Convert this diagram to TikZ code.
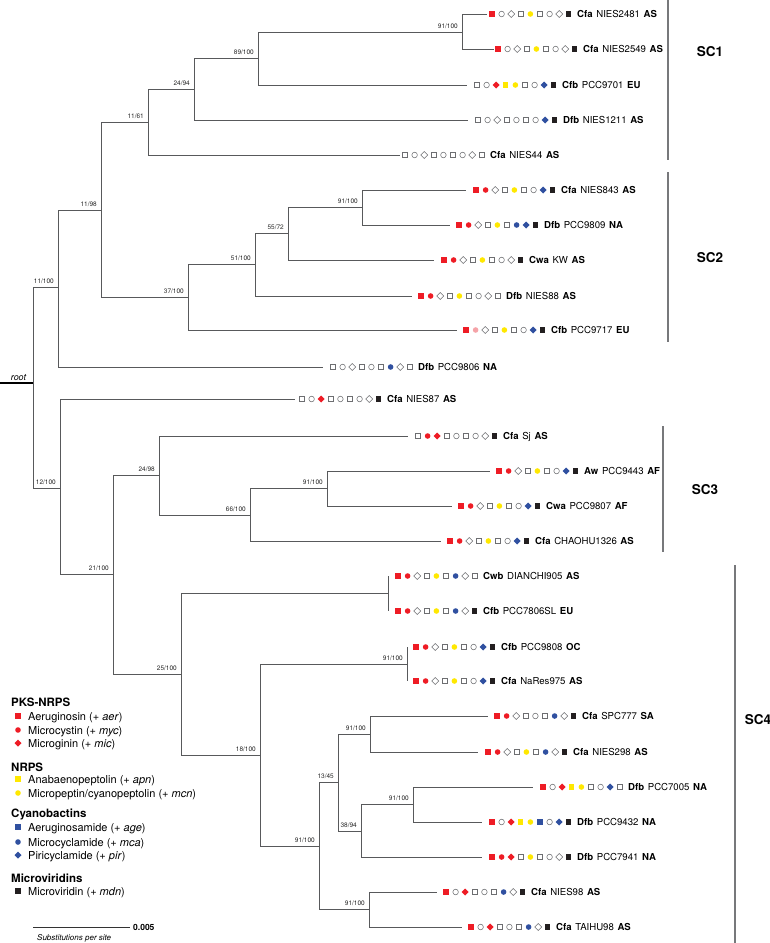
\documentclass[tikz,border=0pt]{standalone}
\usepackage{fontspec}
\setmainfont{TeX Gyre Heros}
\definecolor{cred}{HTML}{EE1C25}
\definecolor{cpink}{HTML}{F5A3A8}
\definecolor{cyel}{HTML}{FFE800}
\definecolor{cblu}{HTML}{3050A0}
\definecolor{cblk}{HTML}{231F20}
\definecolor{copen}{HTML}{6D6E71}
\definecolor{cbr}{HTML}{58595B}
\definecolor{csc}{HTML}{77787B}
\tikzset{
  br/.style={draw=cbr,line width=0.9pt},
  rootline/.style={draw=black,line width=1.8pt},
  scline/.style={draw=csc,line width=2pt},
  leaftxt/.style={anchor=base west,inner sep=0pt,font=\fontsize{9.6}{11}\selectfont},
  bslab/.style={anchor=base east,inner sep=0pt,font=\fontsize{6.5}{7}\selectfont,text=black!85},
  sclab/.style={anchor=center,inner sep=0pt,font=\fontsize{13.5}{15}\selectfont\bfseries},
  leghead/.style={anchor=base west,inner sep=0pt,font=\fontsize{11.5}{13}\selectfont\bfseries},
  legitem/.style={anchor=base west,inner sep=0pt,font=\fontsize{11}{13}\selectfont},
}
% shape code, x, y, fill, draw
\newcommand\drawsym[5]{%
  \ifcase#1\or
    \path[fill=#4,draw=#5,line width=0.55pt] (#2-2.6,#3-2.6) rectangle (#2+2.6,#3+2.6);%
  \or
    \path[fill=#4,draw=#5,line width=0.55pt] (#2,#3) circle[radius=2.8pt];%
  \or
    \path[fill=#4,draw=#5,line width=0.55pt] (#2,#3-3.5) -- (#2+3.5,#3) -- (#2,#3+3.5) -- (#2-3.5,#3) -- cycle;%
  \fi}
\newcommand\symrow[3]{%
  \foreach \v [count=\i] in {#3} {%
    \pgfmathsetmacro\sx{#1+9.6*(\i-1)}%
    \ifcase\i\or\def\sh{1}\def\cc{cred}\or\def\sh{2}\def\cc{cred}\or\def\sh{3}\def\cc{cred}%
    \or\def\sh{1}\def\cc{cyel}\or\def\sh{2}\def\cc{cyel}\or\def\sh{1}\def\cc{cblu}%
    \or\def\sh{2}\def\cc{cblu}\or\def\sh{3}\def\cc{cblu}\or\def\sh{1}\def\cc{cblk}\fi
    \ifnum\v=0 \drawsym{\sh}{\sx}{#2}{white}{copen}%
    \else\ifnum\v=2 \drawsym{\sh}{\sx}{#2}{cpink}{none}%
    \else \drawsym{\sh}{\sx}{#2}{\cc}{none}\fi\fi
  }}
\newcommand\lt[3]{\textbf{#1}\hspace{0.38em}#2\hspace{0.38em}\textbf{#3}}
% name, line end x, first symbol x, y, pattern, text
\newcommand\leaf[6]{%
  \coordinate (#1) at (#2,#4);
  \symrow{#3}{#4}{#5}
  \node[leaftxt] (#1t) at (#3+85,#4+3.5) {#6};}
\newcommand\bsl[2]{\node[bslab] (#1l) at ([xshift=-4pt,yshift=3.5pt]#1) {#2};}
\begin{document}
\begin{tikzpicture}[x=1pt,y=-1pt]
\useasboundingbox (0,0) rectangle (770,943);
% leaves
\leaf{L1}{487}{492}{14}{1,0,0,0,1,0,0,0,1}{\lt{Cfa}{NIES2481}{AS}}
\leaf{L2}{494}{498}{49}{1,0,0,0,1,0,0,0,1}{\lt{Cfa}{NIES2549}{AS}}
\leaf{L3}{467}{477}{85}{0,0,1,1,1,0,0,1,1}{\lt{Cfb}{PCC9701}{EU}}
\leaf{L4}{468}{478}{120}{0,0,0,0,0,0,0,1,1}{\lt{Dfb}{NIES1211}{AS}}
\leaf{L5}{400}{405}{155}{0,0,0,0,0,0,0,0,0}{\lt{Cfa}{NIES44}{AS}}
\leaf{L6}{466}{476}{190}{1,1,0,0,1,0,0,1,1}{\lt{Cfa}{NIES843}{AS}}
\leaf{L7}{450}{459}{225}{1,1,0,0,1,0,1,1,1}{\lt{Dfb}{PCC9809}{NA}}
\leaf{L8}{434}{444}{260}{1,1,0,0,1,0,0,0,1}{\lt{Cwa}{KW}{AS}}
\leaf{L9}{412}{421}{296}{1,1,0,0,1,0,0,0,0}{\lt{Dfb}{NIES88}{AS}}
\leaf{L10}{457}{466}{330}{1,2,0,0,1,0,0,1,1}{\lt{Cfb}{PCC9717}{EU}}
\leaf{L11}{323}{333}{367}{0,0,0,0,0,0,1,0,0}{\lt{Dfb}{PCC9806}{NA}}
\leaf{L12}{295}{302}{399}{0,0,1,0,0,0,0,0,1}{\lt{Cfa}{NIES87}{AS}}
\leaf{L13}{408}{418}{436}{0,1,1,0,0,0,0,0,1}{\lt{Cfa}{Sj}{AS}}
\leaf{L14}{490}{499}{471}{1,1,0,0,1,0,0,1,1}{\lt{Aw}{PCC9443}{AF}}
\leaf{L15}{452}{461}{506}{1,1,0,0,1,0,0,1,1}{\lt{Cwa}{PCC9807}{AF}}
\leaf{L16}{441}{450}{541}{1,1,0,0,1,0,0,1,1}{\lt{Cfa}{CHAOHU1326}{AS}}
\leaf{L17}{388}{398}{576}{1,1,0,0,1,0,1,0,0}{\lt{Cwb}{DIANCHI905}{AS}}
\leaf{L18}{388}{398}{611}{1,1,0,0,1,0,1,0,1}{\lt{Cfb}{PCC7806SL}{EU}}
\leaf{L19}{407}{416}{647}{1,1,0,0,1,0,0,1,1}{\lt{Cfb}{PCC9808}{OC}}
\leaf{L20}{407}{416}{681}{1,1,0,0,1,0,0,1,1}{\lt{Cfa}{NaRes975}{AS}}
\leaf{L21}{488}{497}{716}{1,1,0,0,0,0,1,0,1}{\lt{Cfa}{SPC777}{SA}}
\leaf{L22}{478}{488}{752}{1,1,0,0,1,0,1,0,1}{\lt{Cfa}{NIES298}{AS}}
\leaf{L23}{533}{543}{787}{1,0,1,1,1,0,0,1,0}{\lt{Dfb}{PCC7005}{NA}}
\leaf{L24}{482}{492}{822}{1,0,1,1,1,1,0,1,1}{\lt{Dfb}{PCC9432}{NA}}
\leaf{L25}{482}{492}{857}{1,1,1,0,1,0,0,0,1}{\lt{Dfb}{PCC7941}{NA}}
\leaf{L26}{437}{446}{892}{1,0,1,0,0,0,1,0,1}{\lt{Cfa}{NIES98}{AS}}
\leaf{L27}{462}{471}{927}{1,0,1,0,0,0,1,0,1}{\lt{Cfa}{TAIHU98}{AS}}
% internal nodes
\coordinate (T) at (0,383);
\coordinate (R) at (33,383);
\coordinate (n1) at (58,287);
\coordinate (n2) at (60,488);
\coordinate (n3) at (101,210);
\coordinate (n4) at (148,122);
\coordinate (n5) at (188,297);
\coordinate (n6) at (194,89);
\coordinate (n7) at (258,58);
\coordinate (n8) at (462,32);
\coordinate (n9) at (255,264);
\coordinate (n10) at (288,233);
\coordinate (n11) at (362,207);
\coordinate (n12) at (113,574);
\coordinate (n13) at (159,475);
\coordinate (n14) at (181,674);
\coordinate (n15) at (250,515);
\coordinate (n16) at (327,488);
\coordinate (n17) at (388,593);
\coordinate (n18) at (260,755);
\coordinate (n19) at (407,664);
\coordinate (n20) at (319,846);
\coordinate (n21) at (338,782);
\coordinate (n22) at (369,909);
\coordinate (n23) at (370,734);
\coordinate (n24) at (361,831);
\coordinate (n25) at (413,804);
% branches
\foreach \p/\c in {R/n1,R/n2,n1/n3,n1/L11,n3/n4,n3/n5,n4/n6,n4/L5,n6/n7,n6/L4,n7/n8,n7/L3,
  n8/L1,n8/L2,n5/n9,n5/L10,n9/n10,n9/L9,n10/n11,n10/L8,n11/L6,n11/L7,
  n2/L12,n2/n12,n12/n13,n12/n14,n13/L13,n13/n15,n15/n16,n15/L16,n16/L14,n16/L15,
  n14/n17,n14/n18,n17/L17,n17/L18,n18/n19,n18/n20,n19/L19,n19/L20,n20/n21,n20/n22,
  n21/n23,n21/n24,n23/L21,n23/L22,n24/n25,n24/L25,n25/L23,n25/L24,n22/L26,n22/L27}
  {\draw[br] (\p) |- (\c);}
\draw[rootline] (T) -- (R);
\node[anchor=base,inner sep=0pt,font=\fontsize{9}{10}\selectfont\itshape] (rootlab) at (18.5,380) {root};
% bootstrap labels
\bsl{n1}{11/100}
\bsl{n2}{12/100}
\bsl{n3}{11/98}
\bsl{n4}{11/61}
\bsl{n5}{37/100}
\bsl{n6}{24/94}
\bsl{n7}{89/100}
\bsl{n8}{91/100}
\bsl{n9}{51/100}
\bsl{n10}{55/72}
\bsl{n11}{91/100}
\bsl{n12}{21/100}
\bsl{n13}{24/98}
\bsl{n14}{25/100}
\bsl{n15}{66/100}
\bsl{n16}{91/100}
\bsl{n18}{18/100}
\bsl{n19}{91/100}
\bsl{n20}{91/100}
\bsl{n21}{13/45}
\bsl{n22}{91/100}
\bsl{n23}{91/100}
\bsl{n24}{38/94}
\bsl{n25}{91/100}
% subclade brackets
\coordinate (sc1a) at (668,0); \coordinate (sc1b) at (668,160);
\coordinate (sc2a) at (668,172); \coordinate (sc2b) at (668,342);
\coordinate (sc3a) at (663,426); \coordinate (sc3b) at (663,552);
\coordinate (sc4a) at (735,565); \coordinate (sc4b) at (735,943);
\draw[scline] (sc1a) -- (sc1b);
\draw[scline] (sc2a) -- (sc2b);
\draw[scline] (sc3a) -- (sc3b);
\draw[scline] (sc4a) -- (sc4b);
\node[sclab] (SC1) at (710,52) {SC1};
\node[sclab] (SC2) at (710,258) {SC2};
\node[sclab] (SC3) at (705,490) {SC3};
\node[sclab] (SC4) at (758,720) {SC4};
% legend
\node[leghead] (h1) at (11,706) {PKS-NRPS};
\drawsym{1}{18}{716}{cred}{none}
\node[legitem] (i1) at (28,720) {Aeruginosin (+ \textit{aer})};
\drawsym{2}{18}{730}{cred}{none}
\node[legitem] (i2) at (28,734) {Microcystin (+ \textit{myc})};
\drawsym{3}{18}{743}{cred}{none}
\node[legitem] (i3) at (28,747) {Microginin (+ \textit{mic})};
\node[leghead] (h2) at (11,771) {NRPS};
\drawsym{1}{18}{779}{cyel}{none}
\node[legitem] (i4) at (28,783) {Anabaenopeptolin (+ \textit{apn})};
\drawsym{2}{18}{793}{cyel}{none}
\node[legitem] (i5) at (28,797) {Micropeptin/cyanopeptolin (+ \textit{mcn})};
\node[leghead] (h3) at (11,817) {Cyanobactins};
\drawsym{1}{18}{827}{cblu}{none}
\node[legitem] (i6) at (28,831) {Aeruginosamide (+ \textit{age})};
\drawsym{2}{18}{842}{cblu}{none}
\node[legitem] (i7) at (28,846) {Microcyclamide (+ \textit{mca})};
\drawsym{3}{18}{855}{cblu}{none}
\node[legitem] (i8) at (28,859) {Piricyclamide (+ \textit{pir})};
\node[leghead] (h4) at (11,882) {Microviridins};
\drawsym{1}{18}{891}{cblk}{none}
\node[legitem] (i9) at (28,895) {Microviridin (+ \textit{mdn})};
% scale bar
\coordinate (sb1) at (33,927); \coordinate (sb2) at (130,927);
\draw[draw=black!80,line width=0.9pt] (sb1) -- (sb2);
\node[anchor=base west,inner sep=0pt,font=\fontsize{8.5}{10}\selectfont\bfseries] (sbt) at (133,930) {0.005};
\node[anchor=base west,inner sep=0pt,font=\fontsize{8}{9}\selectfont\itshape] (sbl) at (37,940) {Substitutions per site};
\end{tikzpicture}
\end{document}
